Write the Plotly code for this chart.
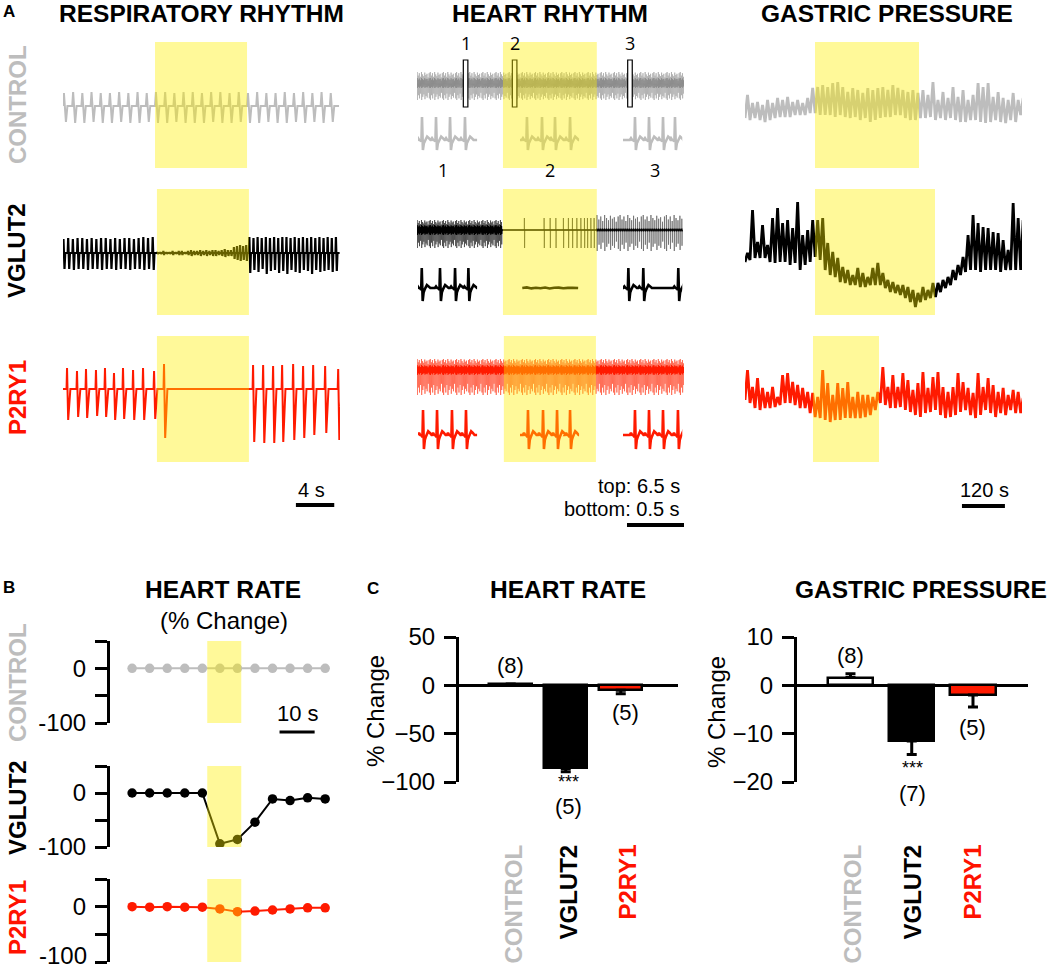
import plotly.graph_objects as go

W, H = 1050, 970
FONT = "Liberation Sans, Arial, Helvetica, sans-serif"

# ============================ DATA ============================
GROUPS = ["CONTROL", "VGLUT2", "P2RY1"]

# ---- A. Respiratory rhythm (time in s, amplitude in a.u. from baseline) ----
resp_window_s = 28.9
resp_stim_s = [[9.6, 19.2], [9.8, 19.4], [9.8, 19.4]]
resp_ctrl_period_s = 0.96
resp_ctrl_up = [13, 14, 13, 14, 13, 13, 14, 13, 14, 13, 14, 14, 13, 14, 14,
                13, 14, 14, 13, 14, 13, 14, 13, 13, 14, 13, 14, 13, 14, 13]
resp_ctrl_down = [16, 17, 17, 16, 17, 17, 16, 17, 17, 16, 17, 17, 16, 17, 17,
                  17, 16, 17, 17, 16, 17, 17, 16, 17, 17, 16, 17, 16, 17, 16]
resp_vg_pre_period_s = 0.49
resp_vg_pre_up = [14, 15, 14, 15, 15, 14, 15, 14, 15, 15, 14, 15, 14, 15, 15, 14, 15, 16, 15, 16]
resp_vg_pre_down = [16, 16, 17, 16, 16, 17, 16, 16, 17, 16, 16, 17, 16, 16, 17, 16, 16, 17, 16, 17]
resp_vg_stim_period_s = 0.32
resp_vg_stim_amp = [1, 1, 2, 1, 1, 2, 1, 2, 2, 1, 2, 3, 2, 2, 3, 2, 3, 2, 3, 3,
                    2, 3, 4, 3, 3, 6, 7, 8, 7, 8]
resp_vg_post_period_s = 0.43
resp_vg_post_up = [16, 15, 16, 15, 16, 15, 16, 15, 16, 16, 15, 16, 15, 16, 15, 16, 15, 16, 15, 16, 15, 16]
resp_vg_post_down = [20, 17, 19, 16, 21, 18, 17, 20, 18, 21, 17, 19, 20, 17, 18, 21, 17, 19, 18, 17, 19, 18]
resp_p2_spike_s = [0.42, 1.46, 2.40, 3.44, 4.38, 5.32, 6.26, 7.31, 8.35, 9.50, 10.54,
                   19.83, 20.88, 21.92, 22.86, 24.01, 25.05, 26.10, 27.35, 28.71]
resp_p2_spike_up = [21, 18, 20, 19, 21, 16, 21, 19, 21, 18, 25, 24, 24, 23, 24, 25, 23, 24, 23, 20]
resp_p2_spike_down = [31, 28, 29, 27, 28, 31, 30, 31, 31, 30, 49, 53, 54, 54, 53, 51, 49, 46, 44, 51]

# ---- A. Heart rhythm ----
heart_window_s = 30.44
heart_stim_s = [[9.8, 20.5], [9.8, 20.5], [9.9, 20.4]]
heart_beat_amp_pattern = [1.0, 0.7, 0.9, 0.6, 1.0, 0.8, 0.65, 0.95, 0.75, 0.85, 0.55, 0.9]
heart_ctrl_beat_s = 0.125
heart_ctrl_env = [12, 16]
heart_ctrl_core = [6, 4]
heart_vg_pre_end_s = 9.8
heart_vg_pre_beat_s = 0.125
heart_vg_pre_env = [10, 18]
heart_vg_pre_core = [5, 5]
heart_vg_stim_beats_s = [12.23, 14.48, 15.17, 15.82, 16.68, 17.25, 17.71, 18.21,
                         18.67, 19.08, 19.42, 19.81, 20.18]
heart_vg_stim_env = [12, 18]
heart_vg_post_start_s = 20.5
heart_vg_post_beat_s = 0.22
heart_vg_post_env = [15, 21]
heart_vg_post_core = [1.5, 1.5]
heart_p2_beat_s = 0.125
heart_p2_env = [11, 25]
heart_p2_core = [5, 5]

snippet_start_s = [5.28, 10.87, 24.02]
snippet_window_s = 0.52
snip_r_s = [
    [[0.035, 0.158, 0.281, 0.412], [0.061, 0.193, 0.307, 0.439], [0.105, 0.228, 0.351, 0.456]],
    [[0.033, 0.193, 0.325, 0.442], [], [0.047, 0.178, 0.485]],
    [[0.044, 0.167, 0.298, 0.421], [0.070, 0.202, 0.325, 0.439], [0.105, 0.228, 0.351, 0.482]],
]
snip_amp = [[23, 10], [20, 13], [25, 14]]
snip_vg_flat_t = [0.02, 0.06, 0.10, 0.14, 0.18, 0.22, 0.26, 0.30, 0.34, 0.38, 0.42, 0.46, 0.51]
snip_vg_flat_v = [0.0, 0.6, -0.4, 0.3, -0.2, 0.5, -0.5, 0.2, 0.4, -0.3, 0.1, 0.3, 0.0]

# ---- A. Gastric pressure (one low/high pair per sample) ----
gastric_dt_s = 14.0
gastric_window_s = 773.7
gastric_stim_s = [[195.5, 486.0], [195.5, 530.7], [189.9, 374.3]]
gp_ctrl_low = [-8, -10, -8, -10, -12, -10, -8, -7, -7, -7, -5, -5, -5, -3, -3, -5, -5, -5, -7, -5,
               -7, -8, -7, -10, -8, -12, -10, -8, -7, -7, -5, -5, -8, -10, -10, -8, -8, -7, -10, -8,
               -10, -8, -10, -12, -12, -10, -10, -12, -13, -12, -10, -12, -13, -10, -12, -5]
gp_ctrl_high = [15, 7, 8, 5, 10, 7, 12, 10, 13, 8, 10, 7, 12, 22, 23, 25, 23, 27, 28, 23,
                18, 22, 20, 17, 22, 20, 22, 23, 20, 25, 22, 20, 18, 20, 17, 20, 15, 28, 10, 18,
                12, 23, 13, 20, 10, 15, 27, 23, 27, 13, 18, 12, 10, 17, 10, 12]
gp_vg_low = [-4, -2, 0, 0, 0, -4, -5, -4, -4, -7, -5, -12, -7, -4, 1, -2, -12, -17, -19, -24,
             -25, -27, -27, -29, -29, -27, -27, -27, -30, -34, -35, -37, -40, -44, -49, -44, -42, -40, -39, -34,
             -30, -27, -22, -17, -14, -12, -12, -14, -12, -12, -12, -14, -12, -12, -12, -12]
gp_vg_high = [5, 48, 16, 33, 13, 40, 50, 35, 38, 30, 56, 23, 28, 38, 38, 40, 15, 6, 0, -9,
              -12, -17, -10, -15, -19, -10, -5, -15, -22, -24, -27, -27, -29, -32, -35, -29, -32, -25, -25, -22,
              -19, -12, -7, 1, 23, 43, 35, 31, 30, 26, 25, 18, 8, 55, 40, 38]
gp_p2_low = [0, -3, -8, -10, -8, -8, -7, -5, -3, -3, -5, -8, -8, -13, -17, -18, -20, -22, -20, -20,
             -18, -18, -18, -18, -17, -15, -10, -3, -5, -8, -8, -7, -10, -12, -15, -17, -13, -12, -10, -15,
             -18, -17, -15, -12, -10, -15, -18, -15, -10, -13, -17, -13, -15, -10, -13, -13]
gp_p2_high = [30, 13, 22, 12, 8, 13, 3, 25, 27, 18, 15, 12, 8, 7, 3, 30, 17, 5, 17, 12,
              18, 3, 8, 5, 5, 3, 8, 33, 13, 25, 13, 27, 20, 10, 17, 28, 12, 23, 28, 13,
              8, 13, 27, 18, 12, 7, 27, 13, 22, 15, 8, 12, 5, 10, 8, 2]

# ---- B. Heart rate time course (% change) ----
hr_time_s = [0, 5, 10, 15, 20, 25, 30, 35, 40, 45, 50, 55]
hr_stim_s = [21.4, 31.1]
hr_ctrl = [0, 0, 0, 0, 0, 0, 0, 0, 0, 0, 0, 0]
hr_vglut2 = [0, 0, 0, 0, 0, -94, -86, -54, -11, -14, -9, -11]
hr_vglut2_sem = [1, 1, 1, 1, 1, 4, 4, 4, 4, 4, 4, 4]
hr_p2ry1 = [0, -1, 0, -1, -1, -4, -9, -8, -6, -4, -2, -2]
hr_axis_ticks = [50, 0, -50, -100]
hr_axis_ticktext = ["", "0", "", "-100"]

# ---- C. Bar summaries (% change) ----
bar_hr_mean = [1.0, -86.0, -5.2]
bar_hr_sem = [0.5, 3.5, 3.4]
bar_hr_n = [8, 5, 5]
bar_gp_mean = [1.6, -11.5, -2.0]
bar_gp_sem = [0.8, 2.8, 2.5]
bar_gp_n = [8, 7, 5]
bar_signif = ["", "***", ""]

# ============================ STYLE ============================
GREY = "#bdbdbd"
BLACK = "#000000"
RED = "#ff1a00"
LABEL_COLORS = ["#bdbdbd", "#000000", "#ff1200"]
YELLOW = "rgb(255,240,0)"
YELLOW_OPACITY = 0.4
TITLE_SIZE = 24.5

RESP_SHAPE_T = [0.0, 0.1, 0.32, 0.48, 1.0]
RESP_SHAPE_V = [0.0, 1.0, -1.0, 0.0, 0.0]
RESP_SPIKE_DT = [-0.05, 0.0, 0.12, 0.35]
RESP_SPIKE_V = [0.0, 1.0, -1.0, 0.0]
HEART_SPIKE_DT = [0.0, 0.012, 0.035, 0.06]
HEART_SPIKE_V = [0.0, 1.0, -1.0, 0.0]
ECG_DT = [-0.045, -0.035, -0.025, -0.012, -0.005, 0.0, 0.008, 0.016, 0.026, 0.045, 0.06, 0.075]
ECG_V = [0.0, 0.08, 0.0, -0.04, -0.15, 1.0, -1.0, -0.35, -0.1, 0.15, 0.08, 0.0]


def fx(px):
    return px / W


def fy(py):
    return 1 - py / H


def names(n):
    s = "" if n == 1 else str(n)
    return "xaxis" + s, "yaxis" + s, "x" + s, "y" + s


def cycles(t0, period, ups, downs, shape_t, shape_v):
    xs, ys = [], []
    for i, (u, d) in enumerate(zip(ups, downs)):
        for ft, fv in zip(shape_t, shape_v):
            xs.append(t0 + (i + ft) * period)
            ys.append(fv * (u if fv >= 0 else d))
    return xs, ys


def events(times, ups, downs, shape_dt, shape_v):
    xs, ys = [], []
    for t, u, d in zip(times, ups, downs):
        for dt, v in zip(shape_dt, shape_v):
            xs.append(t + dt)
            ys.append(v * (u if v >= 0 else d))
    return xs, ys


def regular_beats(t0, t1, period):
    n = int(round((t1 - t0) / period))
    return [t0 + k * period for k in range(n)]


def beat_train(times, amp, textured=False):
    k = len(heart_beat_amp_pattern)
    f = [heart_beat_amp_pattern[i % k] if textured else 1.0 for i in range(len(times))]
    return events(times, [amp[0] * m for m in f], [amp[1] * m for m in f], HEART_SPIKE_DT, HEART_SPIKE_V)


def zigzag(dt, lows, highs):
    xs, ys = [], []
    for i, (lo, hi) in enumerate(zip(lows, highs)):
        xs += [i * dt, i * dt + dt / 2]
        ys += [lo, hi]
    return xs, ys


fig = go.Figure()
layout_axes = {}


def make_axes(n, x0, x1, ytop, ybot, xr, yr, yextra=None):
    xa, ya, xref, yref = names(n)
    layout_axes[xa] = dict(domain=[fx(x0), fx(x1)], range=xr, anchor=yref,
                           visible=False, fixedrange=True, automargin=False)
    yd = dict(domain=[fy(ybot), fy(ytop)], range=yr, anchor=xref,
              visible=False, fixedrange=True, automargin=False)
    if yextra:
        yd.update(yextra)
    layout_axes[ya] = yd


def line_trace(n, xs, ys, color, width):
    _, _, xref, yref = names(n)
    fig.add_trace(go.Scatter(x=xs, y=ys, mode="lines", xaxis=xref, yaxis=yref,
                             line=dict(color=color, width=width, simplify=False),
                             hoverinfo="skip"))


ROW_TOP = [42, 189, 336]
ROW_BOT = [168, 315, 462]
shapes = []
ann = []


def text(x, y, s, size, color="black", bold=False, angle=0, xanchor="center",
         yanchor="middle", family=FONT):
    ann.append(dict(x=fx(x), y=fy(y), xref="paper", yref="paper", text=(f"<b>{s}</b>" if bold else s),
                    showarrow=False, textangle=angle, xanchor=xanchor, yanchor=yanchor,
                    font=dict(family=family, size=size, color=color)))


# ---------------- A: respiratory ----------------
resp_base = [106, 253, 389]
for r in range(3):
    make_axes(1 + r, 63, 340, ROW_TOP[r], ROW_BOT[r], [0, resp_window_s],
              [resp_base[r] - ROW_BOT[r], resp_base[r] - ROW_TOP[r]])

xs, ys = cycles(0, resp_ctrl_period_s, resp_ctrl_up, resp_ctrl_down, RESP_SHAPE_T, RESP_SHAPE_V)
line_trace(1, xs, ys, GREY, 2)

x1, y1 = cycles(0, resp_vg_pre_period_s, resp_vg_pre_up, resp_vg_pre_down, RESP_SHAPE_T, RESP_SHAPE_V)
t_stim0 = len(resp_vg_pre_up) * resp_vg_pre_period_s
x2, y2 = cycles(t_stim0, resp_vg_stim_period_s, resp_vg_stim_amp, resp_vg_stim_amp, RESP_SHAPE_T, RESP_SHAPE_V)
t_post0 = t_stim0 + len(resp_vg_stim_amp) * resp_vg_stim_period_s
x3, y3 = cycles(t_post0, resp_vg_post_period_s, resp_vg_post_up, resp_vg_post_down, RESP_SHAPE_T, RESP_SHAPE_V)
line_trace(2, x1 + x2 + x3, y1 + y2 + y3, BLACK, 2.2)

xs, ys = events(resp_p2_spike_s, resp_p2_spike_up, resp_p2_spike_down, RESP_SPIKE_DT, RESP_SPIKE_V)
line_trace(3, [0] + xs + [resp_window_s], [0] + ys + [0], RED, 2)

# ---------------- A: heart rhythm ----------------
heart_base = [84, 230, 370]
for r in range(3):
    make_axes(4 + r, 417, 684, ROW_TOP[r], ROW_BOT[r], [0, heart_window_s],
              [heart_base[r] - ROW_BOT[r], heart_base[r] - ROW_TOP[r]])

b = regular_beats(0, heart_window_s, heart_ctrl_beat_s)
xs, ys = beat_train(b, heart_ctrl_env, textured=True)
line_trace(4, xs, ys, "#a9a9a9", 0.7)
xs, ys = beat_train(b, heart_ctrl_core, textured=True)
line_trace(4, xs, ys, "#8c8c8c", 0.9)

b_pre = regular_beats(0, heart_vg_pre_end_s, heart_vg_pre_beat_s)
b_post = regular_beats(heart_vg_post_start_s, heart_window_s, heart_vg_post_beat_s)
xa_, ya_ = beat_train(b_pre, heart_vg_pre_env, textured=True)
xb_, yb_ = beat_train(heart_vg_stim_beats_s, heart_vg_stim_env)
line_trace(5, xa_ + xb_, ya_ + yb_, "#3a3a3a", 0.7)
xs, ys = beat_train(b_post, heart_vg_post_env, textured=True)
line_trace(5, xs, ys, "#6e6e6e", 0.8)
xc1, yc1 = beat_train(b_pre, heart_vg_pre_core, textured=True)
xc3, yc3 = beat_train(b_post, heart_vg_post_core)
line_trace(5, xc1 + xc3, yc1 + yc3, BLACK, 1.3)

b = regular_beats(0, heart_window_s, heart_p2_beat_s)
xs, ys = beat_train(b, heart_p2_env, textured=True)
line_trace(6, xs, ys, "#ff5a40", 0.7)
xs, ys = beat_train(b, heart_p2_core, textured=True)
line_trace(6, xs, ys, RED, 1.1)

# snippets
snip_x0 = [418, 520, 623]
snip_top = [108, 258, 400]
snip_bot = [160, 310, 458]
snip_base = [140, 288, 435]
snip_w_px = snippet_window_s * 114
trace_colors = [GREY, BLACK, RED]
for r in range(3):
    up, dn = snip_amp[r]
    for s in range(3):
        n = 10 + 3 * r + s
        make_axes(n, snip_x0[s], snip_x0[s] + snip_w_px, snip_top[r], snip_bot[r],
                  [0, snippet_window_s], [snip_base[r] - snip_bot[r], snip_base[r] - snip_top[r]])
        rt = snip_r_s[r][s]
        if rt:
            ex, ey = events(rt, [up] * len(rt), [dn] * len(rt), ECG_DT, ECG_V)
            xs = [0] + ex + [snippet_window_s]
            ys = [0] + ey + [0]
        else:
            xs, ys = snip_vg_flat_t, snip_vg_flat_v
        line_trace(n, xs, ys, trace_colors[r], 2.6)

# snippet boxes and numbers
for i, t in enumerate(snippet_start_s):
    shapes.append(dict(type="rect", xref="x4", yref="paper", x0=t, x1=t + snippet_window_s,
                       y0=fy(107), y1=fy(60), line=dict(color="black", width=1.2),
                       fillcolor="white", layer="above"))
    ann.append(dict(x=t + snippet_window_s / 2, y=fy(43), xref="x4", yref="paper", text=str(i + 1),
                    showarrow=False, xanchor="center", yanchor="middle",
                    font=dict(family="Open Sans, DejaVu Sans", size=18, color="black")))
for i, xp in enumerate([443, 550, 655]):
    text(xp, 170, str(i + 1), 18, family="Open Sans, DejaVu Sans")

# ---------------- A: gastric ----------------
gp_base = [110, 258, 400]
for r in range(3):
    make_axes(7 + r, 745, 1022, ROW_TOP[r], ROW_BOT[r], [0, gastric_window_s],
              [gp_base[r] - ROW_BOT[r], gp_base[r] - ROW_TOP[r]])
for r, (lo, hi) in enumerate([(gp_ctrl_low, gp_ctrl_high), (gp_vg_low, gp_vg_high), (gp_p2_low, gp_p2_high)]):
    xs, ys = zigzag(gastric_dt_s, lo, hi)
    line_trace(7 + r, xs, ys, trace_colors[r], 2.8)

# yellow stimulation windows (panel A)
for r in range(3):
    for col, (base_n, stim) in enumerate([(1, resp_stim_s), (4, heart_stim_s), (7, gastric_stim_s)]):
        _, _, xref, _ = names(base_n + r)
        shapes.append(dict(type="rect", xref=xref, yref="paper", x0=stim[r][0], x1=stim[r][1],
                           y0=fy(ROW_BOT[r]), y1=fy(ROW_TOP[r]), fillcolor=YELLOW,
                           opacity=YELLOW_OPACITY, line=dict(width=0), layer="above"))

# scale bars panel A
shapes.append(dict(type="line", xref="x3", yref="paper", x0=resp_window_s - 0.6 - 4, x1=resp_window_s - 0.6,
                   y0=fy(505), y1=fy(505), line=dict(color="black", width=4)))
shapes.append(dict(type="line", xref="x6", yref="paper", x0=heart_window_s - 6.5, x1=heart_window_s,
                   y0=fy(525), y1=fy(525), line=dict(color="black", width=4)))
shapes.append(dict(type="line", xref="x9", yref="paper", x0=606, x1=726,
                   y0=fy(506), y1=fy(506), line=dict(color="black", width=4)))
text(311, 490, "4 s", 20)
text(682, 486, "top: 6.5 s", 20, xanchor="right")
text(682, 509, "bottom: 0.5 s", 20, xanchor="right")
text(984, 490, "120 s", 20)

# titles & labels A
text(9, 12, "A", 17, bold=True)
text(201, 14, "RESPIRATORY RHYTHM", TITLE_SIZE, bold=True)
text(550, 14, "HEART RHYTHM", TITLE_SIZE, bold=True)
text(887, 14, "GASTRIC PRESSURE", TITLE_SIZE, bold=True)
for r, yc in enumerate([105, 251, 398]):
    text(17, yc, GROUPS[r], 24, color=LABEL_COLORS[r], bold=True, angle=-90)

# ---------------- B: heart rate time course ----------------
B_TOP = [641, 766, 879]
B_BOT = [723, 847, 962]
hr_series = [hr_ctrl, hr_vglut2, hr_p2ry1]
for r in range(3):
    n = 19 + r
    # bottom-most label of the last row is written as a separate text so it stays inside the page
    ttext = hr_axis_ticktext if r < 2 else [t if t != "-100" else "" for t in hr_axis_ticktext]
    yb = dict(visible=True, showline=True, linewidth=3, linecolor="black", ticks="outside",
              ticklen=12, tickwidth=3, tickcolor="black", tickvals=hr_axis_ticks,
              ticktext=ttext, showgrid=False, zeroline=False, ticklabeloverflow="allow",
              ticklabelstandoff=4, tickfont=dict(family=FONT, size=24, color="black"))
    make_axes(n, 110, 335, B_TOP[r], B_BOT[r], [-6.3, 57.8], [-100, 50], yextra=yb)
    _, _, xref, yref = names(n)
    err = dict(type="data", array=hr_vglut2_sem, color="black", thickness=2, width=3) if r == 1 else None
    fig.add_trace(go.Scatter(x=hr_time_s, y=hr_series[r], mode="lines+markers", xaxis=xref, yaxis=yref,
                             line=dict(color=trace_colors[r], width=2),
                             marker=dict(color=trace_colors[r], size=9.5),
                             error_y=err, hoverinfo="skip"))
    shapes.append(dict(type="rect", xref=xref, yref=yref + " domain", x0=hr_stim_s[0], x1=hr_stim_s[1],
                       y0=0, y1=1, fillcolor=YELLOW, opacity=YELLOW_OPACITY, line=dict(width=0),
                       layer="above"))
text(89, 955, "-100", 24, xanchor="right")
shapes.append(dict(type="line", xref="x19", yref="paper", x0=42, x1=52, y0=fy(732), y1=fy(732),
                   line=dict(color="black", width=3)))
text(298, 713, "10 s", 22)
text(9, 587, "B", 17, bold=True)
text(223, 589, "HEART RATE", TITLE_SIZE, bold=True)
text(224, 620, "(% Change)", 24)
for r, yc in enumerate([683, 808, 918]):
    text(17, yc, GROUPS[r], 24, color=LABEL_COLORS[r], bold=True, angle=-90)

# ---------------- C: bar charts ----------------
bar_fill = ["white", "black", RED]


def bar_panel(n, x0, x1, xr, yr, tickvals, means, sems, width):
    make_axes(n, x0, x1, 637, 782, xr, yr, yextra=dict(
        visible=True, showline=True, linewidth=3, linecolor="black", ticks="outside", ticklen=12,
        tickwidth=3, tickcolor="black", tickvals=tickvals, showgrid=False, zeroline=True,
        zerolinecolor="black", zerolinewidth=3, ticklabeloverflow="allow", ticklabelstandoff=4,
        tickfont=dict(family=FONT, size=24, color="black")))
    _, _, xref, yref = names(n)
    plus = [s if m > 0 else 0 for m, s in zip(means, sems)]
    minus = [s if m < 0 else 0 for m, s in zip(means, sems)]
    fig.add_trace(go.Bar(x=[0, 1, 2], y=means, width=width, xaxis=xref, yaxis=yref,
                         marker=dict(color=bar_fill, line=dict(color="black", width=2.5)),
                         error_y=dict(type="data", symmetric=False, array=plus, arrayminus=minus,
                                      color="black", thickness=3, width=5),
                         hoverinfo="skip"))


bar_panel(22, 459, 678, [-0.94, 3.04], [-100, 50], [50, 0, -50, -100], bar_hr_mean, bar_hr_sem, 0.78)
bar_panel(23, 797, 1028, [-0.873, 2.898], [-20, 10], [10, 0, -10, -20], bar_gp_mean, bar_gp_sem, 0.74)

text(373, 588, "C", 17, bold=True)
text(568, 589, "HEART RATE", TITLE_SIZE, bold=True)
text(921, 589, "GASTRIC PRESSURE", TITLE_SIZE, bold=True)
text(375, 711, "% Change", 24, angle=-90)
text(716, 712, "% Change", 24, angle=-90)

# n labels and significance
hr_n_pos = [(510, 665), (568, 806), (625, 712)]
gp_n_pos = [(850, 655), (912, 793), (972, 727)]
for i in range(3):
    text(hr_n_pos[i][0], hr_n_pos[i][1], f"({bar_hr_n[i]})", 22)
    text(gp_n_pos[i][0], gp_n_pos[i][1], f"({bar_gp_n[i]})", 22)
    if bar_signif[i]:
        text(568, 782, bar_signif[i], 18)
        text(912, 768, bar_signif[i], 18)

for i, (xh, xg) in enumerate(zip([513, 568, 627], [852, 912, 972])):
    text(xh, 843, GROUPS[i], 24, color=LABEL_COLORS[i], bold=True, angle=-90, yanchor="top")
    text(xg, 843, GROUPS[i], 24, color=LABEL_COLORS[i], bold=True, angle=-90, yanchor="top")

fig.update_layout(template="none", width=W, height=H, autosize=False,
                  margin=dict(l=0, r=0, t=0, b=0, pad=0, autoexpand=False), paper_bgcolor="white",
                  plot_bgcolor="rgba(0,0,0,0)", showlegend=False, font=dict(family=FONT, color="black"),
                  shapes=shapes, annotations=ann, bargap=0, **layout_axes)

fig.write_html("out.html", config={"displayModeBar": False},
               post_script="document.body.style.margin='0';document.body.style.overflow='hidden';")
